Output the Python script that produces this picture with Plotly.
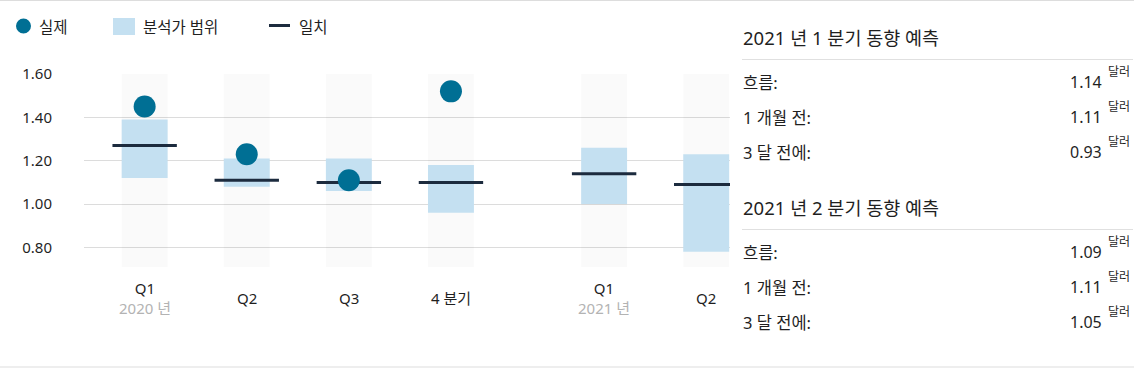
import plotly.graph_objects as go

# ---------------- data ----------------
quarters = ["Q1", "Q2", "Q3", "4 분기", "Q1", "Q2"]
years = ["2020 년", "", "", "", "2021 년", ""]
actual = [1.45, 1.23, 1.11, 1.52, None, None]
range_low = [1.12, 1.08, 1.06, 0.96, 1.00, 0.78]
range_high = [1.39, 1.21, 1.21, 1.18, 1.26, 1.23]
consensus = [1.27, 1.11, 1.10, 1.10, 1.14, 1.09]

legend_labels = ["실제", "분석가 범위", "일치"]

panel_titles = ["2021 년 1 분기 동향 예측", "2021 년 2 분기 동향 예측"]
row_labels = ["흐름:", "1 개월 전:", "3 달 전에:"]
panel_values = [[1.14, 1.11, 0.93], [1.09, 1.11, 1.05]]
unit = "달러"

# ---------------- layout constants ----------------
W, H = 1134, 368
FONT = "Noto Sans, Noto Sans CJK KR, sans-serif"
TXT = "#1f1f1f"
DOT = "#006f94"
BOX = "#c4e0f1"
LINE = "#1c2b3e"
Y_MIN, Y_MAX = 0.71, 1.60
BAR_W = 0.45

# positions: one unit per quarter, extra half-unit gap between years
pos = []
p = 0.0
for i, y in enumerate(years):
    if i > 0 and y:
        p += 0.5
    pos.append(p)
    p += 1.0


def px(x):
    return x / W


def py(y):
    return 1 - y / H


fig = go.Figure()

# background columns
fig.add_trace(go.Bar(
    x=pos, y=[Y_MAX - Y_MIN] * len(pos), base=[Y_MIN] * len(pos),
    width=BAR_W, marker=dict(color="rgba(0,0,0,0.02)", line=dict(width=0)),
    hoverinfo="skip", showlegend=False))

# analyst range
fig.add_trace(go.Bar(
    x=pos, y=[h - l for h, l in zip(range_high, range_low)], base=range_low,
    width=BAR_W, marker=dict(color=BOX, line=dict(width=0)),
    hoverinfo="skip", showlegend=False))

# consensus
fig.add_trace(go.Scatter(
    x=pos, y=consensus, mode="markers",
    marker=dict(symbol="line-ew", size=46, line=dict(color=LINE, width=3)),
    hoverinfo="skip", showlegend=False))

# actual
fig.add_trace(go.Scatter(
    x=pos, y=actual, mode="markers",
    marker=dict(color=DOT, size=22, line=dict(width=0)),
    hoverinfo="skip", showlegend=False))

fig.update_layout(
    barmode="overlay",
    width=W, height=H,
    margin=dict(l=0, r=0, t=0, b=0, pad=0, autoexpand=False),
    paper_bgcolor="white", plot_bgcolor="white",
    font=dict(family=FONT, color=TXT, size=15),
    xaxis=dict(domain=[px(84), px(730)], range=[-0.594, 5.733],
               showgrid=False, zeroline=False, showticklabels=False,
               fixedrange=True),
    yaxis=dict(domain=[py(267), py(74)], range=[Y_MIN, Y_MAX],
               tickvals=[0.8, 1.0, 1.2, 1.4, 1.6], tickformat=".2f",
               showgrid=True, gridcolor="#dcdcdc", gridwidth=1,
               zeroline=False, showline=False, ticks="",
               ticklabelstandoff=31, tickfont=dict(size=15, color=TXT),
               fixedrange=True),
)

annotations = []
shapes = []

# x labels
for x, q, yr in zip(pos, quarters, years):
    text = q if not yr else f"{q}<br><span style='color:#b3b3b3'>{yr}</span>"
    annotations.append(dict(x=x, xref="x", y=py(298), yref="paper", text=text,
                            showarrow=False, xanchor="center", yanchor="middle",
                            align="center", font=dict(size=15, color=TXT)))

# legend
shapes.append(dict(type="circle", xref="paper", yref="paper",
                   x0=px(16), x1=px(31), y0=py(18.5), y1=py(33.5),
                   fillcolor=DOT, line=dict(width=0)))
shapes.append(dict(type="rect", xref="paper", yref="paper",
                   x0=px(113), x1=px(135), y0=py(18), y1=py(35),
                   fillcolor=BOX, line=dict(width=0)))
shapes.append(dict(type="line", xref="paper", yref="paper",
                   x0=px(269), x1=px(290), y0=py(25.5), y1=py(25.5),
                   line=dict(color=LINE, width=3)))
for lx, lab in zip([37, 141, 297], legend_labels):
    annotations.append(dict(x=px(lx), y=py(27), xref="paper", yref="paper",
                            text=lab, showarrow=False, xanchor="left",
                            yanchor="middle", font=dict(size=15.5, color=TXT)))

# page borders
shapes.append(dict(type="line", xref="paper", yref="paper", x0=0, x1=1,
                   y0=py(0.5), y1=py(0.5), line=dict(color="#dddddd", width=1)))
shapes.append(dict(type="line", xref="paper", yref="paper", x0=0, x1=1,
                   y0=py(367), y1=py(367), line=dict(color="#dddddd", width=1)))

# right panels
panel_tops = [37.5, 207.5]
for top, title, vals in zip(panel_tops, panel_titles, panel_values):
    annotations.append(dict(x=px(741), y=py(top), xref="paper", yref="paper",
                            text=title, showarrow=False, xanchor="left",
                            yanchor="middle", font=dict(size=18.5, color=TXT)))
    div_y = top + 22
    shapes.append(dict(type="line", xref="paper", yref="paper",
                       x0=px(742), x1=px(1133), y0=py(div_y), y1=py(div_y),
                       line=dict(color="#e0e0e0", width=1)))
    for k, (lab, v) in enumerate(zip(row_labels, vals)):
        ry = top + 44.5 + k * 35.2
        annotations.append(dict(x=px(741), y=py(ry), xref="paper", yref="paper",
                                text=lab, showarrow=False, xanchor="left",
                                yanchor="middle", font=dict(size=16.5, color=TXT)))
        annotations.append(dict(x=px(1104), y=py(ry), xref="paper", yref="paper",
                                text=f"{v:.2f}", showarrow=False, xanchor="right",
                                yanchor="middle", font=dict(size=16, color=TXT)))
        annotations.append(dict(x=px(1106), y=py(ry - 10.5), xref="paper", yref="paper",
                                text=unit, showarrow=False, xanchor="left",
                                yanchor="middle", font=dict(size=12, color=TXT)))

fig.update_layout(annotations=annotations, shapes=shapes)
fig.write_html(
    "out.html",
    config={"displayModeBar": False},
    post_script=(
        "document.body.style.margin='0';document.body.style.padding='0';"
        "document.body.style.overflow='hidden';"
        "var d=document.getElementById('{plot_id}');"
        "d.style.position='fixed';d.style.top='0px';d.style.left='0px';"
    ),
)
